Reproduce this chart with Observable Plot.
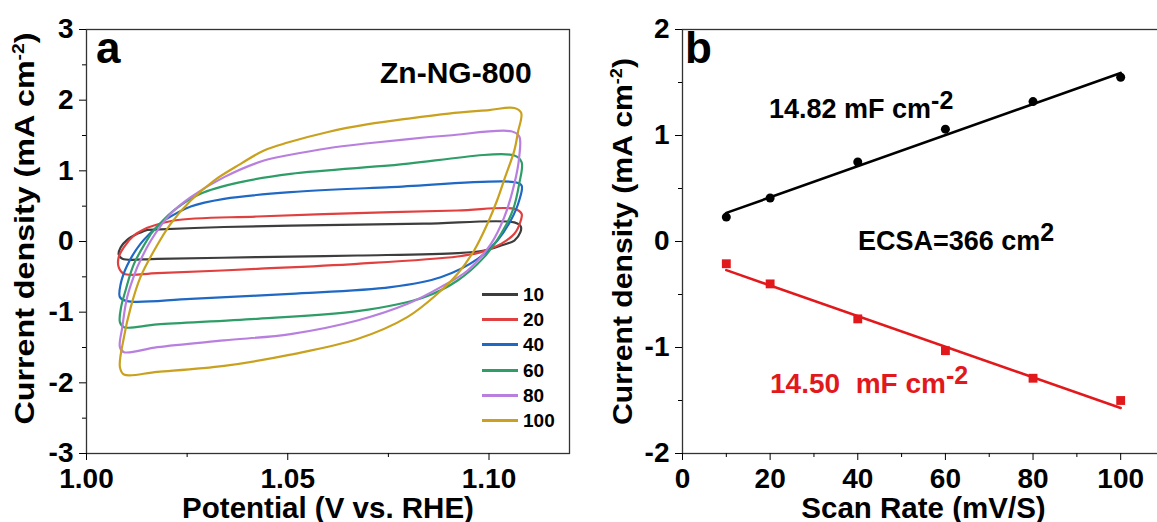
<!DOCTYPE html>
<html><head><meta charset="utf-8">
<script src="https://cdn.jsdelivr.net/npm/d3@7"></script>
<script src="https://cdn.jsdelivr.net/npm/@observablehq/plot@0.6"></script>
<style>
html,body{margin:0;padding:0;background:#fff;overflow:hidden;width:1157px;height:522px}
#wrap{position:relative;width:1157px;height:522px;overflow:hidden;font-family:"Liberation Sans",Arial,sans-serif;font-weight:bold;color:#000}
.panel{position:absolute;top:0}
.ann{position:absolute;white-space:nowrap;line-height:1}
.leg{position:absolute;left:482px;font-size:19px;line-height:1}
.leg .row{position:absolute;left:0;height:20px;white-space:nowrap}
.leg .sw{position:absolute;left:0;top:9px;width:36px;height:3px}
.leg .lb{position:absolute;left:41px;top:1px}
</style></head><body><div id="wrap">
<div id="pa" class="panel" style="left:0;width:580px"></div>
<div id="pb" class="panel" style="left:580px;width:584px"></div>
</div>
<script>
// ---------- Panel a: CV loops (potential V vs RHE, current density mA cm-2) ----------
const scanRates = ["10", "20", "40", "60", "80", "100"];
const cvColors = ["#3d3d3d", "#e0403f", "#1f68c4", "#2f9d68", "#b97fdf", "#c9a11e"];
const cv10 = [[1.0151,0.165],[1.0342,0.205],[1.059,0.232],[1.0839,0.252],[1.1063,0.27],[1.1079,0.212],[1.1078,0.132],[1.1063,0.014],[1.103,-0.056],[1.0988,-0.127],[1.0922,-0.165],[1.0673,-0.198],[1.0424,-0.221],[1.0176,-0.245],[1.0089,-0.245],[1.008,-0.184],[1.0085,-0.08],[1.0101,0.024],[1.0126,0.109]];
const cv20 = [[1.0151,0.194],[1.0217,0.297],[1.0424,0.354],[1.0673,0.401],[1.0922,0.439],[1.1063,0.462],[1.1081,0.392],[1.1079,0.297],[1.1063,0.109],[1.103,-0.033],[1.098,-0.151],[1.0922,-0.212],[1.0673,-0.316],[1.0424,-0.387],[1.0176,-0.448],[1.0093,-0.457],[1.008,-0.363],[1.008,-0.221],[1.0093,-0.08],[1.0118,0.085]];
const cv40 = [[1.0192,0.297],[1.0259,0.496],[1.0342,0.604],[1.0507,0.698],[1.0756,0.769],[1.1063,0.84],[1.1081,0.793],[1.1075,0.58],[1.1054,0.297],[1.1021,0.014],[1.0972,-0.245],[1.088,-0.505],[1.0756,-0.646],[1.0507,-0.74],[1.0259,-0.811],[1.0101,-0.844],[1.0083,-0.787],[1.0085,-0.599],[1.0101,-0.339],[1.0134,-0.033]];
const cv60 = [[1.016,0.109],[1.0217,0.439],[1.0283,0.675],[1.0383,0.84],[1.0507,0.958],[1.0756,1.076],[1.1063,1.217],[1.1081,1.123],[1.1075,0.816],[1.1059,0.439],[1.103,0.109],[1.0988,-0.221],[1.0922,-0.552],[1.0839,-0.788],[1.0673,-0.986],[1.0424,-1.094],[1.0176,-1.174],[1.0093,-1.212],[1.0083,-1.141],[1.0086,-0.929],[1.0097,-0.693],[1.0118,-0.316]];
const cv80 = [[1.0126,-0.363],[1.016,0.014],[1.0209,0.392],[1.0259,0.628],[1.0342,0.911],[1.0441,1.146],[1.05,1.22],[1.06,1.32],[1.07,1.39],[1.08,1.45],[1.09,1.5],[1.1055,1.56],[1.1075,1.49],[1.1075,1.194],[1.1063,0.816],[1.1038,0.344],[1.1005,-0.033],[1.0947,-0.41],[1.088,-0.646],[1.0798,-0.882],[1.0673,-1.118],[1.0507,-1.31],[1.0342,-1.4],[1.0176,-1.495],[1.0093,-1.566],[1.0083,-1.495],[1.0089,-1.212],[1.0101,-0.788]];
const cv100 = [[1.0168,-0.127],[1.0209,0.25],[1.0259,0.58],[1.0317,0.863],[1.0383,1.099],[1.0441,1.288],[1.05,1.4],[1.06,1.55],[1.07,1.66],[1.08,1.74],[1.09,1.81],[1.1,1.86],[1.1063,1.89],[1.108,1.82],[1.1072,1.55],[1.1063,1.29],[1.104,0.91],[1.102,0.58],[1.0996,0.25],[1.0963,-0.127],[1.0922,-0.457],[1.0872,-0.74],[1.0797,-1.07],[1.0673,-1.38],[1.0507,-1.6],[1.0342,-1.76],[1.0176,-1.845],[1.0093,-1.882],[1.0083,-1.778],[1.0093,-1.354],[1.011,-0.929],[1.0134,-0.505]];
const cvLoops = [cv10, cv20, cv40, cv60, cv80, cv100];
const xTicksA = [1.00, 1.05, 1.10];
const xMinorA = [1.025, 1.075];
const yTicksA = [-3, -2, -1, 0, 1, 2, 3];
const yMinorA = [-2.5, -1.5, -0.5, 0.5, 1.5, 2.5];

// ---------- Panel b: scan rate vs current density ----------
const scanRateB = [10, 20, 40, 60, 80, 100];
const anodicJ = [0.23, 0.41, 0.75, 1.06, 1.32, 1.55];
const cathodicJ = [-0.21, -0.40, -0.73, -1.03, -1.29, -1.50];
const fitX = [10, 100];
const anodicFit = [0.27, 1.59];
const cathodicFit = [-0.27, -1.57];
const xTicksB = [0, 20, 40, 60, 80, 100];
const xMinorB = [10, 30, 50, 70, 90];
const yTicksB = [-2, -1, 0, 1, 2];
const yMinorB = [-1.5, -0.5, 0.5, 1.5];

const FONT = '"Liberation Sans", Arial, sans-serif';
const baseStyle = {fontFamily: FONT, fontWeight: "bold", color: "#000", background: "#fff", overflow: "visible"};

const cvRows = scanRates.flatMap((r, i) => {
  const pts = cvLoops[i].concat([cvLoops[i][0]]);
  return pts.map(([x, y]) => ({rate: r, x, y}));
});

// turn "base^{sup}rest" into tspans; optionally stretch the rotated title to a target length
function applySup(svg, titleLength) {
  d3.select(svg).selectAll("text").each(function () {
    const t = this.textContent;
    const m = t.match(/^(.*)\^\{(.*?)\}(.*)$/);
    if (!m) return;
    const sel = d3.select(this);
    sel.text(null);
    sel.append("tspan").text(m[1]);
    sel.append("tspan").attr("font-size", "0.6em").attr("dy", "-0.62em").text(m[2]);
    sel.append("tspan").attr("dy", "0.372em").text(m[3]);
    if (titleLength) sel.attr("textLength", titleLength).attr("lengthAdjust", "spacingAndGlyphs");
  });
}

const plotA = Plot.plot({
  width: 580, height: 522,
  marginLeft: 86, marginRight: 11, marginTop: 29, marginBottom: 69,
  x: {domain: [1.0, 1.12]},
  y: {domain: [-3, 3]},
  color: {domain: scanRates, range: cvColors},
  style: baseStyle,
  marks: [
    Plot.frame({stroke: "#333", strokeWidth: 1.3}),
    Plot.axisX({ticks: xTicksA, tickFormat: d => d.toFixed(2), tickSize: 7, tickPadding: 8, fontSize: 28, label: null}),
    Plot.axisX({ticks: xMinorA, tickFormat: () => "", tickSize: 4, label: null}),
    Plot.axisY({ticks: yTicksA, tickFormat: d => String(d), tickSize: 7, tickPadding: 6, fontSize: 28, label: null}),
    Plot.axisY({ticks: yMinorA, tickFormat: () => "", tickSize: 4, label: null}),
    Plot.line(cvRows, {x: "x", y: "y", z: "rate", stroke: "rate", strokeWidth: 2.2, curve: "catmull-rom"}),
    Plot.text(["Potential (V vs. RHE)"], {frameAnchor: "bottom", textAnchor: "middle", lineAnchor: "bottom", dy: 64, fontSize: 29.5, fontWeight: "bold"}),
    Plot.text(["Current density (mA cm^{-2})"], {frameAnchor: "left", textAnchor: "middle", lineAnchor: "middle", rotate: -90, dx: -61, dy: -13, fontSize: 28, fontWeight: "bold"})
  ]
});
applySup(plotA, 392);
document.getElementById("pa").appendChild(plotA);

const fitRows = [
  ...fitX.map((x, i) => ({s: "anodic", x, y: anodicFit[i]})),
  ...fitX.map((x, i) => ({s: "cathodic", x, y: cathodicFit[i]}))
];
const anodicRows = scanRateB.map((x, i) => ({x, y: anodicJ[i]}));
const cathodicRows = scanRateB.map((x, i) => ({x, y: cathodicJ[i]}));

const plotB = Plot.plot({
  width: 584, height: 522,
  marginLeft: 102, marginRight: 0, marginTop: 29, marginBottom: 69,
  x: {domain: [0, 110]},
  y: {domain: [-2, 2]},
  style: baseStyle,
  marks: [
    Plot.frame({stroke: "#333", strokeWidth: 1.3}),
    Plot.axisX({ticks: xTicksB, tickFormat: d => String(d), tickSize: 7, tickPadding: 8, fontSize: 28, label: null}),
    Plot.axisX({ticks: xMinorB, tickFormat: () => "", tickSize: 4, label: null}),
    Plot.axisY({ticks: yTicksB, tickFormat: d => String(d), tickSize: 7, tickPadding: 6, fontSize: 28, label: null}),
    Plot.axisY({ticks: yMinorB, tickFormat: () => "", tickSize: 4, label: null}),
    Plot.line(fitRows, {x: "x", y: "y", z: "s", stroke: d => d.s === "anodic" ? "#000" : "#e2191c", strokeWidth: 2.6}),
    Plot.dot(anodicRows, {x: "x", y: "y", r: 4.5, fill: "#000", symbol: "circle"}),
    Plot.dot(cathodicRows, {x: "x", y: "y", r: 5, fill: "#e2191c", symbol: "square"}),
    Plot.text(["Scan Rate (mV/S)"], {frameAnchor: "bottom", textAnchor: "middle", lineAnchor: "bottom", dy: 64, fontSize: 29.5, fontWeight: "bold"}),
    Plot.text(["Current density (mA cm^{-2})"], {frameAnchor: "left", textAnchor: "middle", lineAnchor: "middle", rotate: -90, dx: -59, dy: 0, fontSize: 27, fontWeight: "bold"})
  ]
});
applySup(plotB, 367);
document.getElementById("pb").appendChild(plotB);

// ---------- Annotations & legend (HTML overlays) ----------
const wrap = document.getElementById("wrap");
function ann(html, left, top, size, color) {
  const d = document.createElement("div");
  d.className = "ann";
  d.style.left = left + "px"; d.style.top = top + "px";
  d.style.fontSize = size + "px"; d.style.color = color || "#000";
  d.innerHTML = html;
  wrap.appendChild(d);
}
ann("a", 96, 26, 44);
ann("b", 685, 26, 44);
ann("Zn-NG-800", 380, 58, 30);
ann('14.82 mF cm<span style="font-size:25px;position:relative;top:-9px">-2</span>', 769, 96, 27);
ann('ECSA=366 cm<span style="font-size:25px;position:relative;top:-9px">2</span>', 858, 228, 27);
ann('14.50&nbsp; mF cm<span style="font-size:25px;position:relative;top:-9px">-2</span>', 770, 370, 28, "#e2191c");

const leg = document.createElement("div");
leg.className = "leg";
leg.style.top = "284px";
scanRates.forEach((r, i) => {
  const row = document.createElement("div");
  row.className = "row";
  row.style.top = (i * 25.2) + "px";
  row.innerHTML = `<div class="sw" style="background:${cvColors[i]}"></div><div class="lb">${r}</div>`;
  leg.appendChild(row);
});
wrap.appendChild(leg);
</script>
</body></html>
